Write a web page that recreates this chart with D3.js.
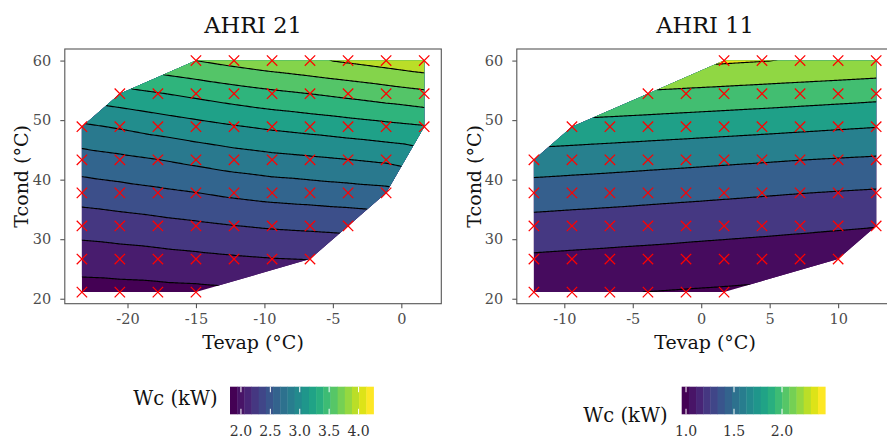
<!DOCTYPE html>
<html>
<head>
<meta charset="utf-8">
<script src="https://cdn.jsdelivr.net/npm/d3@7"></script>
<style>
  body { margin: 0; background: #fff; }
  svg { display: block; font-family: "DejaVu Serif", serif; }
</style>
</head>
<body>
<svg id="chart" width="887" height="439"></svg>
<script>
// Condensing temperatures (rows), shared by both maps
var tcond = [21.11, 26.67, 32.22, 37.78, 43.33, 48.89, 54.44, 60.0];

// AHRI 21: evaporating temperatures (columns) and compressor power, null = not tested
var tevap21 = [-23.33, -20.56, -17.78, -15.0, -12.22, -9.44, -6.67, -3.89, -1.11, 1.67];
var wc21 = [
  [1.921, 1.929, 1.938, 1.948, null, null, null, null, null, null],
  [2.094, 2.111, 2.130, 2.152, 2.175, 2.194, 2.205, null, null, null],
  [2.280, 2.306, 2.334, 2.364, 2.396, 2.421, 2.437, 2.454, null, null],
  [2.490, 2.523, 2.559, 2.597, 2.639, 2.672, 2.693, 2.717, 2.741, null],
  [2.713, 2.753, 2.797, 2.846, 2.896, 2.936, 2.965, 2.996, 3.029, null],
  [2.967, 3.018, 3.075, 3.131, 3.185, 3.231, 3.268, 3.307, 3.347, 3.386],
  [null, 3.332, 3.388, 3.446, 3.504, 3.556, 3.601, 3.650, 3.701, 3.753],
  [null, null, null, 3.801, 3.865, 3.923, 3.973, 4.027, 4.085, 4.146]
];

// AHRI 11
var tevap11 = [-12.22, -9.44, -6.67, -3.89, -1.11, 1.67, 4.44, 7.22, 10.0, 12.78];
var wc11 = [
  [1.034, 1.022, 1.010, 0.998, 0.987, 0.977, null, null, null, null],
  [1.171, 1.159, 1.148, 1.137, 1.125, 1.113, 1.101, 1.089, 1.077, null],
  [1.326, 1.313, 1.301, 1.288, 1.274, 1.261, 1.248, 1.234, 1.220, 1.206],
  [1.505, 1.491, 1.478, 1.463, 1.449, 1.434, 1.419, 1.404, 1.390, 1.377],
  [1.710, 1.695, 1.680, 1.664, 1.649, 1.633, 1.618, 1.602, 1.588, 1.574],
  [null, 1.935, 1.919, 1.903, 1.887, 1.871, 1.855, 1.838, 1.821, 1.805],
  [null, null, null, 2.170, 2.152, 2.135, 2.118, 2.100, 2.082, 2.063],
  [null, null, null, null, null, 2.428, 2.408, 2.389, 2.372, 2.354]
];

// contour levels, colourbar limits and ticks
var levels21 = [2.0, 2.2, 2.4, 2.6, 2.8, 3.0, 3.2, 3.4, 3.6, 3.8, 4.0];
var levels11 = [1.0, 1.2, 1.4, 1.6, 1.8, 2.0, 2.2, 2.4];
var legendRange21 = [1.814, 4.254];
var legendRange11 = [0.955, 2.45];
var legendTicks21 = [2.0, 2.5, 3.0, 3.5, 4.0];
var legendTicks11 = [1.0, 1.5, 2.0];
var xTicks21 = [-20, -15, -10, -5, 0];
var xTicks11 = [-10, -5, 0, 5, 10];
var yTicks = [20, 30, 40, 50, 60];

var svg = d3.select("svg#chart");
var panelW = 376.5, panelTop = 49, panelBottom = 303.7;
var serif = "'DejaVu Serif', serif";

function drawPanel(cfg) {
  var g = svg.append("g");

  // flatten the table into points
  var pts = [];
  cfg.wc.forEach(function(row, i) {
    row.forEach(function(w, j) {
      if (w !== null) pts.push({te: cfg.tevap[j], tc: tcond[i], w: w});
    });
  });

  var teExt = d3.extent(cfg.tevap), tcExt = d3.extent(tcond);
  var padX = 0.05 * (teExt[1] - teExt[0]), padY = 0.05 * (tcExt[1] - tcExt[0]);
  var x = d3.scaleLinear().domain([teExt[0] - padX, teExt[1] + padX]).range([cfg.left, cfg.left + panelW]);
  var y = d3.scaleLinear().domain([tcExt[0] - padY, tcExt[1] + padY]).range([panelBottom, panelTop]);

  // linear interpolation on the triangulation of the points
  var px = pts.map(function(d) { return [x(d.te), y(d.tc)]; });
  var delaunay = d3.Delaunay.from(px);
  var tri = delaunay.triangles;
  var hullIdx = Array.from(delaunay.hull);

  function valueAt(gx, gy) {
    for (var t = 0; t < tri.length; t += 3) {
      var a = px[tri[t]], b = px[tri[t + 1]], c = px[tri[t + 2]];
      var det = (b[1] - c[1]) * (a[0] - c[0]) + (c[0] - b[0]) * (a[1] - c[1]);
      if (Math.abs(det) < 1e-9) continue;
      var l1 = ((b[1] - c[1]) * (gx - c[0]) + (c[0] - b[0]) * (gy - c[1])) / det;
      var l2 = ((c[1] - a[1]) * (gx - c[0]) + (a[0] - c[0]) * (gy - c[1])) / det;
      var l3 = 1 - l1 - l2;
      if (l1 >= -1e-7 && l2 >= -1e-7 && l3 >= -1e-7)
        return l1 * pts[tri[t]].w + l2 * pts[tri[t + 1]].w + l3 * pts[tri[t + 2]].w;
    }
    // outside the hull: carry the value of the nearest hull edge
    var best = Infinity, val = 0;
    for (var k = 0; k < hullIdx.length; k++) {
      var i0 = hullIdx[k], i1 = hullIdx[(k + 1) % hullIdx.length];
      var p = px[i0], q = px[i1];
      var dx = q[0] - p[0], dy = q[1] - p[1];
      var s = Math.max(0, Math.min(1, ((gx - p[0]) * dx + (gy - p[1]) * dy) / (dx * dx + dy * dy)));
      var ex = p[0] + s * dx - gx, ey = p[1] + s * dy - gy, dist = ex * ex + ey * ey;
      if (dist < best) { best = dist; val = pts[i0].w + s * (pts[i1].w - pts[i0].w); }
    }
    return val;
  }

  var step = 1.5;
  var nx = Math.ceil(panelW / step) + 2, ny = Math.ceil((panelBottom - panelTop) / step) + 2;
  var values = new Float64Array(nx * ny);
  for (var j = 0; j < ny; j++)
    for (var i = 0; i < nx; i++)
      values[j * nx + i] = valueAt(cfg.left + i * step, panelTop + j * step);

  var contours = d3.contours().size([nx, ny]).thresholds(cfg.levels)(values);
  var path = d3.geoPath(d3.geoTransform({
    point: function(cx, cy) { this.stream.point(cfg.left + (cx - 0.5) * step, panelTop + (cy - 0.5) * step); }
  }));

  // each band takes the colour of its lower level
  var lstep = cfg.levels[1] - cfg.levels[0];
  var color = d3.scaleSequential(d3.interpolateViridis).domain(cfg.legendRange);

  svg.append("defs").append("clipPath").attr("id", "clip" + cfg.id)
    .append("polygon")
    .attr("points", hullIdx.map(function(i) { return px[i].join(","); }).join(" "));

  var body = g.append("g").attr("clip-path", "url(#clip" + cfg.id + ")");
  body.append("rect")
    .attr("x", cfg.left).attr("y", panelTop)
    .attr("width", panelW).attr("height", panelBottom - panelTop)
    .attr("fill", color(cfg.levels[0] - lstep));
  body.selectAll("path.band")
    .data(contours)
    .enter().append("path")
    .attr("class", "band")
    .attr("d", path)
    .attr("fill", function(d) { return color(d.value); });
  body.selectAll("path.iso")
    .data(contours)
    .enter().append("path")
    .attr("class", "iso")
    .attr("d", path)
    .attr("fill", "none")
    .attr("stroke", "#000")
    .attr("stroke-width", 1.15);

  // tested points
  g.selectAll("path.pt")
    .data(pts)
    .enter().append("path")
    .attr("class", "pt")
    .attr("transform", function(d) { return "translate(" + x(d.te) + "," + y(d.tc) + ")"; })
    .attr("d", "M-5.2,-5.2L5.2,5.2M-5.2,5.2L5.2,-5.2")
    .attr("stroke", "#ff0000")
    .attr("stroke-width", 1.25)
    .attr("fill", "none");

  // frame
  g.append("rect")
    .attr("x", cfg.left).attr("y", panelTop)
    .attr("width", panelW).attr("height", panelBottom - panelTop)
    .attr("fill", "none")
    .attr("stroke", "#555")
    .attr("stroke-width", 1.1);

  // axes
  var xa = g.append("g")
    .attr("transform", "translate(0," + panelBottom + ")")
    .call(d3.axisBottom(x).tickValues(cfg.xTicks).tickSize(4.5).tickPadding(6).tickFormat(function(d) { return String(d); }));
  var ya = g.append("g")
    .attr("transform", "translate(" + cfg.left + ",0)")
    .call(d3.axisLeft(y).tickValues(yTicks).tickSize(4.5).tickPadding(9).tickFormat(function(d) { return String(d); }));
  [xa, ya].forEach(function(ax) {
    ax.attr("font-size", 14.5).attr("font-family", serif);
    ax.select(".domain").remove();
    ax.selectAll(".tick line").attr("stroke", "#555").attr("stroke-width", 1.1);
    ax.selectAll(".tick text").attr("fill", "#4d4d4d");
  });

  // titles
  var cx = cfg.left + panelW / 2;
  g.append("text")
    .attr("x", cx).attr("y", 33.3)
    .attr("text-anchor", "middle")
    .attr("font-size", 22.5)
    .attr("fill", "#111")
    .text(cfg.title);
  g.append("text")
    .attr("x", cx).attr("y", 349.3)
    .attr("text-anchor", "middle")
    .attr("font-size", 19)
    .attr("fill", "#111")
    .text("Tevap (°C)");
  g.append("text")
    .attr("transform", "translate(" + cfg.yTitleX + "," + (panelTop + panelBottom) / 2 + ") rotate(-90)")
    .attr("text-anchor", "middle")
    .attr("font-size", 19)
    .attr("fill", "#111")
    .text("Tcond (°C)");

  // colourbar legend, 20 steps
  var barY = 386.7, barW = 143.5, barH = 27.6, nbin = 20;
  var lx = d3.scaleLinear().domain(cfg.legendRange).range([cfg.barX, cfg.barX + barW]);
  var lg = svg.append("g");
  lg.selectAll("rect.bin")
    .data(d3.range(nbin))
    .enter().append("rect")
    .attr("class", "bin")
    .attr("x", function(k) { return cfg.barX + k * barW / nbin; })
    .attr("y", barY)
    .attr("width", barW / nbin + 0.4)
    .attr("height", barH)
    .attr("fill", function(k) { return d3.interpolateViridis(k / (nbin - 1)); });
  cfg.legendTicks.forEach(function(v) {
    [[barY, barY + barH / 5], [barY + barH * 4 / 5, barY + barH]].forEach(function(seg) {
      lg.append("line")
        .attr("x1", lx(v)).attr("x2", lx(v))
        .attr("y1", seg[0]).attr("y2", seg[1])
        .attr("stroke", "#fff").attr("stroke-width", 1);
    });
  });
  lg.selectAll("text.lab")
    .data(cfg.legendTicks)
    .enter().append("text")
    .attr("class", "lab")
    .attr("x", function(v) { return lx(v); })
    .attr("y", 435.5)
    .attr("text-anchor", "middle")
    .attr("font-size", 14)
    .attr("fill", "#333")
    .text(function(v) { return v.toFixed(1); });
  lg.append("text")
    .attr("x", cfg.legendTitleX).attr("y", cfg.legendTitleY)
    .attr("font-size", 19.5)
    .attr("fill", "#111")
    .text("Wc (kW)");
}

drawPanel({id: "21", title: "AHRI 21", left: 64.8, tevap: tevap21, wc: wc21, levels: levels21,
  legendRange: legendRange21, legendTicks: legendTicks21, xTicks: xTicks21, yTitleX: 28.3,
  barX: 230, legendTitleX: 133.3, legendTitleY: 405});
drawPanel({id: "11", title: "AHRI 11", left: 516.8, tevap: tevap11, wc: wc11, levels: levels11,
  legendRange: legendRange11, legendTicks: legendTicks11, xTicks: xTicks11, yTitleX: 480.5,
  barX: 681.7, legendTitleX: 583.3, legendTitleY: 421.7});
</script>
</body>
</html>
